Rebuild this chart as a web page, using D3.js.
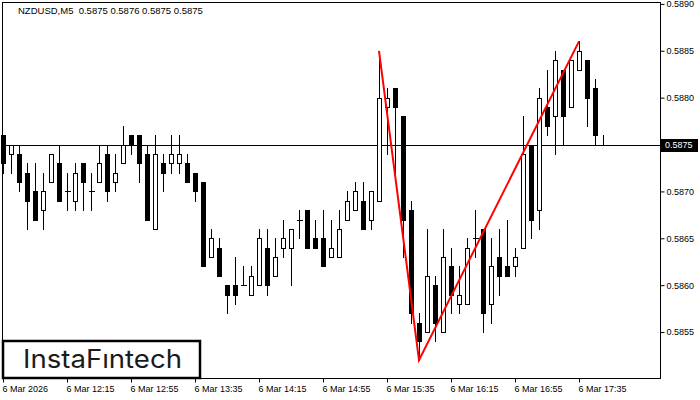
<!DOCTYPE html>
<html>
<head>
<meta charset="utf-8">
<script src="https://cdn.jsdelivr.net/npm/d3@7/dist/d3.min.js"></script>
<style>
  body { margin: 0; background: #fff; }
  svg text { font-family: "Liberation Sans", Arial, sans-serif; }
</style>
</head>
<body>
<div id="chart"></div>
<script>
// NZDUSD M5 candles, one value per bar
const opens = [
  .5876, .5874, .5874, .5872, .5870, .5868, .5871, .5873, .5870, .5869,
  .5873, .5870, .5871, .5874, .5871, .5873, .5876, .5876, .5874, .5866,
  .5873, .5873, .5873, .5873, .5872, .5871, .5863, .5864, .5860, .5860,
  .5860, .5859, .5860, .5864, .5861, .5864, .5864, .5867, .5868, .5865,
  .5865, .5863, .5863, .5867, .5868, .5869, .5867, .5869, .5879, .5881,
  .5878, .5868, .5856, .5855, .5860, .5855, .5862, .5858, .5858, .5865,
  .5866, .5858, .5863, .5862, .5862, .5864, .5875, .5868, .5879, .5878,
  .5883, .5879, .5883, .5884, .5881, .5875
];
const highs = [
  .5876, .5875, .5875, .5873, .5873, .5872, .5874, .5875, .5872, .5873,
  .5873, .5872, .5875, .5875, .5874, .5877, .5876, .5876, .5875, .5876,
  .5874, .5876, .5876, .5874, .5872, .5871, .5866, .5865, .5860, .5863,
  .5862, .5862, .5866, .5866, .5865, .5867, .5866, .5868, .5868, .5867,
  .5868, .5867, .5868, .5870, .5871, .5871, .5870, .5885, .5881, .5881,
  .5878, .5869, .5857, .5866, .5861, .5866, .5864, .5862, .5865, .5868,
  .5866, .5865, .5866, .5867, .5864, .5878, .5875, .5881, .5883, .5885,
  .5883, .5884, .5886, .5884, .5882, .5876
];
const lows = [
  .5872, .5872, .5870, .5866, .5867, .5866, .5871, .5869, .5868, .5868,
  .5868, .5868, .5871, .5869, .5870, .5873, .5874, .5871, .5867, .5866,
  .5870, .5872, .5872, .5871, .5869, .5862, .5863, .5861, .5857, .5858,
  .5860, .5859, .5860, .5859, .5861, .5863, .5860, .5865, .5864, .5864,
  .5862, .5863, .5863, .5867, .5868, .5866, .5866, .5869, .5874, .5871,
  .5863, .5856, .5852, .5855, .5854, .5855, .5857, .5857, .5858, .5863,
  .5855, .5856, .5859, .5861, .5861, .5864, .5865, .5866, .5876, .5874,
  .5875, .5879, .5883, .5877, .5875, .5875
];
const closes = [
  .5873, .5875, .5871, .5869, .5867, .5870, .5874, .5869, .5870, .5872,
  .5871, .5870, .5873, .5870, .5872, .5875, .5875, .5873, .5867, .5874,
  .5872, .5874, .5874, .5871, .5870, .5862, .5865, .5861, .5859, .5859,
  .5860, .5861, .5865, .5860, .5863, .5865, .5866, .5867, .5864, .5864,
  .5862, .5864, .5866, .5869, .5870, .5866, .5870, .5880, .5880, .5879,
  .5867, .5857, .5854, .5861, .5856, .5863, .5859, .5859, .5864, .5865,
  .5857, .5862, .5861, .5861, .5863, .5874, .5867, .5880, .5877, .5884,
  .5878, .5884, .5885, .5880, .5876, .5875
];

// time labels every 8 bars
const timeIdx = [0, 8, 16, 24, 32, 40, 48, 56, 64, 72];
const timeLabels = ["6 Mar 2026", "6 Mar 12:15", "6 Mar 12:55", "6 Mar 13:35", "6 Mar 14:15",
                    "6 Mar 14:55", "6 Mar 15:35", "6 Mar 16:15", "6 Mar 16:55", "6 Mar 17:35"];
const priceTicks = [0.5855, 0.5860, 0.5865, 0.5870, 0.5875, 0.5880, 0.5885, 0.5890];

// double bottom pattern (bar index, price)
const patternIdx = [47, 52, 72];
const patternPrice = [0.5885, 0.5852, 0.5886];

const lastPrice = 0.5875;
const title = "NZDUSD,M5  0.5875 0.5876 0.5875 0.5875";

const width = 700, height = 400;
const plot = {left: 2, top: 2, right: 660, bottom: 378};

const x = d3.scaleLinear().domain([0, 75]).range([3, 603]);
const y = d3.scaleLinear().domain([0.58501, 0.58902]).range([plot.bottom, plot.top]);

const svg = d3.select("#chart").append("svg")
    .attr("width", width)
    .attr("height", height);

svg.append("rect").attr("width", width).attr("height", height).attr("fill", "#fff");

// frame
svg.append("rect")
    .attr("x", plot.left + 0.5).attr("y", plot.top + 0.5)
    .attr("width", plot.right - plot.left).attr("height", plot.bottom - plot.top)
    .attr("fill", "none").attr("stroke", "#000");

// price axis on the right
const yAxis = svg.append("g")
    .attr("transform", "translate(" + (plot.right + 0.5) + ",0)")
    .call(d3.axisRight(y).tickValues(priceTicks).tickFormat(d3.format(".4f")).tickSize(4).tickPadding(2));
yAxis.select(".domain").remove();
yAxis.selectAll("text").style("font-size", "9px").attr("fill", "#000");

// time axis
const xAxis = svg.append("g")
    .attr("transform", "translate(0," + (plot.bottom + 0.5) + ")")
    .call(d3.axisBottom(x).tickValues(timeIdx).tickFormat((d, i) => timeLabels[i]).tickSize(4).tickPadding(3));
xAxis.select(".domain").remove();
xAxis.selectAll("text")
    .style("font-size", "9px")
    .style("text-anchor", "start")
    .attr("dx", "-1")
    .attr("fill", "#000");

// last price line
svg.append("line")
    .attr("x1", plot.left).attr("x2", plot.right)
    .attr("y1", Math.round(y(lastPrice)) + 0.5).attr("y2", Math.round(y(lastPrice)) + 0.5)
    .attr("stroke", "#000");

// candles
const bars = svg.append("g").attr("shape-rendering", "crispEdges");
opens.forEach((o, i) => {
    const c = closes[i];
    const cx = Math.round(x(i)) + 0.5;
    bars.append("line")
        .attr("x1", cx).attr("x2", cx)
        .attr("y1", Math.round(y(highs[i]))).attr("y2", Math.round(y(lows[i])) + 1)
        .attr("stroke", "#000");
    if (o === c) {
        bars.append("line")
            .attr("x1", cx - 2.5).attr("x2", cx + 3)
            .attr("y1", Math.round(y(o)) + 0.5).attr("y2", Math.round(y(o)) + 0.5)
            .attr("stroke", "#000");
    } else {
        const top = Math.round(y(Math.max(o, c)));
        const bot = Math.round(y(Math.min(o, c)));
        bars.append("rect")
            .attr("x", cx - 2).attr("width", 4)
            .attr("y", top + 0.5).attr("height", bot - top)
            .attr("fill", c > o ? "#fff" : "#000")
            .attr("stroke", "#000");
    }
});

// pattern lines
const pts = patternIdx.map((d, i) => [x(d), y(patternPrice[i])]);
svg.append("path")
    .attr("d", d3.line()(pts))
    .attr("fill", "none")
    .attr("stroke", "#ff0000")
    .attr("stroke-width", 2);

// current price tag
const py = y(lastPrice);
svg.append("rect")
    .attr("x", 661).attr("y", Math.round(py) - 6)
    .attr("width", 37).attr("height", 13)
    .attr("fill", "#000");
svg.append("text")
    .attr("x", 665).attr("y", py + 3.5)
    .attr("fill", "#fff")
    .style("font-size", "9px")
    .text(d3.format(".4f")(lastPrice));

// title
svg.append("text")
    .attr("x", 18).attr("y", 14)
    .style("font-size", "9.5px")
    .style("white-space", "pre")
    .attr("fill", "#000")
    .text(title);

// logo box
svg.append("rect")
    .attr("x", 3).attr("y", 341)
    .attr("width", 197).attr("height", 37)
    .attr("fill", "#fff")
    .attr("stroke", "#000")
    .attr("stroke-width", 2.5);
svg.append("text")
    .attr("x", 23).attr("y", 368)
    .attr("textLength", 159)
    .attr("lengthAdjust", "spacingAndGlyphs")
    .style("font-family", "Inter, 'DejaVu Sans', sans-serif")
    .style("font-size", "25px")
    .style("font-weight", "400")
    .attr("fill", "#1a1a1a")
    .text("InstaFıntech");
</script>
</body>
</html>
